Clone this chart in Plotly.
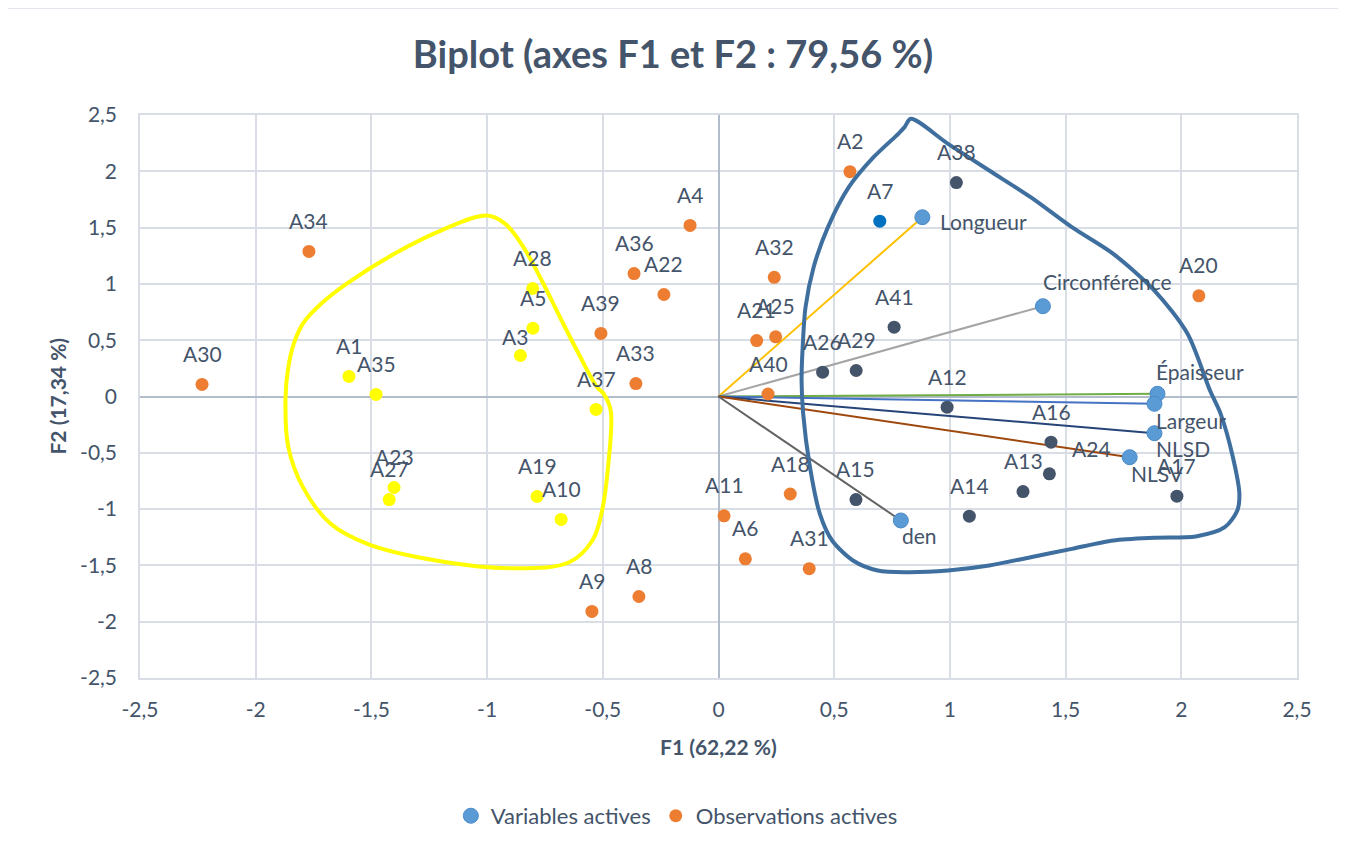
import plotly.graph_objects as go

# ---------------- data ----------------
obs_names = ["A1", "A2", "A3", "A4", "A5", "A6", "A7", "A8", "A9", "A10",
             "A11", "A12", "A13", "A14", "A15", "A16", "A17", "A18", "A19", "A20",
             "A21", "A22", "A23", "A24", "A25", "A26", "A27", "A28", "A29", "A30",
             "A31", "A32", "A33", "A34", "A35", "A36", "A37", "A38", "A39", "A40", "A41"]
obs_f1 = [-1.597, 0.568, -0.856, -0.123, -0.802, 0.116, 0.697, -0.344, -0.547, -0.680,
          0.024, 0.988, 1.316, 1.084, 0.594, 1.437, 1.981, 0.310, -0.784, 2.076,
          0.165, -0.236, -1.402, 1.430, 0.247, 0.450, -1.423, -0.803, 0.595, -2.232,
          0.392, 0.241, -0.357, -1.770, -1.480, -0.365, -0.529, 1.028, -0.508, 0.214, 0.759]
obs_f2 = [0.178, 1.997, 0.364, 1.519, 0.606, -1.442, 1.557, -1.776, -1.909, -1.092,
          -1.060, -0.095, -0.844, -1.063, -0.915, -0.406, -0.885, -0.866, -0.888, 0.894,
          0.497, 0.906, -0.808, -0.687, 0.530, 0.216, -0.915, 0.959, 0.231, 0.107,
          -1.529, 1.058, 0.115, 1.288, 0.018, 1.092, -0.115, 1.900, 0.560, 0.022, 0.616]
# highlighted group of each observation (as drawn in the chart)
obs_group = ["jaune", "aucun", "jaune", "aucun", "jaune", "aucun", "bleu", "aucun", "aucun", "jaune",
             "aucun", "fonce", "fonce", "fonce", "fonce", "fonce", "fonce", "aucun", "jaune", "aucun",
             "aucun", "aucun", "jaune", "fonce", "aucun", "fonce", "jaune", "jaune", "fonce", "aucun",
             "aucun", "aucun", "aucun", "aucun", "jaune", "aucun", "jaune", "fonce", "aucun", "aucun", "fonce"]

var_names = ["Longueur", "Circonférence", "Épaisseur", "Largeur", "NLSD", "NLSV", "den"]
var_f1 = [0.881, 1.402, 1.897, 1.884, 1.884, 1.777, 0.788]
var_f2 = [1.592, 0.802, 0.024, -0.065, -0.326, -0.539, -1.101]

tick_vals = [-2.5, -2, -1.5, -1, -0.5, 0, 0.5, 1, 1.5, 2, 2.5]
tick_text = ["-2,5", "-2", "-1,5", "-1", "-0,5", "0", "0,5", "1", "1,5", "2", "2,5"]

# hand-drawn outlines (data units)
yellow_x = [-1.002, -1.200, -1.399, -1.597, -1.716, -1.796, -1.835, -1.859, -1.871, -1.859,
            -1.796, -1.676, -1.518, -1.221, -0.884, -0.645, -0.545, -0.506, -0.476, -0.466,
            -0.496, -0.525, -0.605, -0.685, -0.764, -0.843, -0.923, -1.002]
yellow_y = [1.607, 1.474, 1.270, 1.015, 0.826, 0.648, 0.471, 0.260, -0.006, -0.450,
            -0.805, -1.131, -1.308, -1.456, -1.525, -1.472, -1.279, -1.042, -0.598, -0.124,
            0.024, 0.083, 0.382, 0.704, 1.030, 1.326, 1.536, 1.607]
blue_x = [0.831, 0.992, 1.170, 1.349, 1.527, 1.706, 1.884, 2.027, 2.124, 2.170,
          2.223, 2.251, 2.242, 2.188, 2.063, 1.884, 1.706, 1.527, 1.349, 1.170,
          0.992, 0.813, 0.688, 0.581, 0.491, 0.438, 0.393, 0.366, 0.359, 0.363,
          0.376, 0.411, 0.473, 0.563, 0.670, 0.777, 0.804, 0.831]
blue_y = [2.466, 2.244, 2.007, 1.770, 1.504, 1.267, 0.941, 0.557, 0.053, -0.154,
          -0.539, -0.864, -1.012, -1.161, -1.243, -1.255, -1.279, -1.353, -1.427, -1.501,
          -1.545, -1.560, -1.545, -1.456, -1.279, -1.042, -0.598, -0.154, 0.142, 0.409,
          0.793, 1.148, 1.504, 1.859, 2.125, 2.333, 2.392, 2.466]

# ---------------- style ----------------
TEXT = "#44546A"
FONT = "Lato"
FS = 21
group_color = {"aucun": "#ED7D31", "jaune": "#FFFF00", "fonce": "#44546A", "bleu": "#0070C0"}
var_line_color = {"Longueur": "#FFC000", "Circonférence": "#A5A5A5", "Épaisseur": "#70AD47",
                  "Largeur": "#4472C4", "NLSD": "#264478", "NLSV": "#9E480E", "den": "#636363"}
# label offsets in pixels (xshift, yshift, xanchor)
var_label = {"Longueur": (16, -4, "left"), "Circonférence": (-2, 25, "left"),
             "Épaisseur": (-3, 22, "left"), "Largeur": (0, -17, "left"),
             "NLSD": (0, -15, "left"), "NLSV": (-1, -16, "left"), "den": (-1, -15, "left")}
obs_label_shift = {"A3": (-5, 19), "A24": (42, 25)}

fig = go.Figure()

# variable vectors
for n, x, y in zip(var_names, var_f1, var_f2):
    fig.add_trace(go.Scatter(x=[0, x], y=[0, y], mode="lines",
                             line=dict(color=var_line_color[n], width=2),
                             showlegend=False, hoverinfo="skip"))

fig.add_trace(go.Scatter(x=var_f1, y=var_f2, mode="markers", name="Variables actives",
                         marker=dict(color="#5B9BD5", size=15,
                                     line=dict(color="#4A8AC8", width=1)),
                         text=var_names))

for g in ["aucun", "jaune", "fonce", "bleu"]:
    idx = [i for i, v in enumerate(obs_group) if v == g]
    fig.add_trace(go.Scatter(x=[obs_f1[i] for i in idx], y=[obs_f2[i] for i in idx],
                             mode="markers",
                             name="Observations actives",
                             showlegend=(g == "aucun"),
                             marker=dict(color=group_color[g], size=13),
                             text=[obs_names[i] for i in idx]))

# hand-drawn outlines
fig.add_trace(go.Scatter(x=yellow_x, y=yellow_y, mode="lines",
                         line=dict(color="#FFFF00", width=4, shape="spline", smoothing=1),
                         showlegend=False, hoverinfo="skip"))
fig.add_trace(go.Scatter(x=blue_x, y=blue_y, mode="lines",
                         line=dict(color="#3E6F9E", width=4, shape="spline", smoothing=0.8),
                         showlegend=False, hoverinfo="skip"))

annotations = []
for n, x, y in zip(obs_names, obs_f1, obs_f2):
    dx, dy = obs_label_shift.get(n, (0, 31))
    annotations.append(dict(x=x, y=y, text=n, showarrow=False, xshift=dx, yshift=dy,
                            font=dict(family=FONT, size=FS, color=TEXT)))
for n, x, y in zip(var_names, var_f1, var_f2):
    dx, dy, xa = var_label[n]
    annotations.append(dict(x=x, y=y, text=n, showarrow=False, xshift=dx, yshift=dy,
                            xanchor=xa, font=dict(family=FONT, size=FS, color=TEXT)))
annotations.append(dict(xref="paper", yref="paper", x=0.5, y=-0.121, xanchor="center", yanchor="middle",
                        text="<b>F1 (62,22 %)</b>",
                        showarrow=False, font=dict(family=FONT, size=FS, color=TEXT)))
annotations.append(dict(xref="paper", yref="paper", x=-0.0717, y=0.5, xanchor="center", yanchor="middle",
                        text="<b>F2 (17,34 %)</b>",
                        textangle=-90, showarrow=False, font=dict(family=FONT, size=FS, color=TEXT)))

axis_common = dict(range=[-2.5, 2.5], tickvals=tick_vals, ticktext=tick_text,
                   showgrid=True, gridcolor="#D9DEE6", gridwidth=1.5,
                   zeroline=True, zerolinecolor="#B3BCCB", zerolinewidth=1.5,
                   showline=True, linecolor="#D9DEE6", linewidth=1.5, mirror=True,
                   tickfont=dict(family=FONT, size=FS, color=TEXT), ticks="")

# the page body adds an 8 px offset; margins compensate for it
fig.update_layout(
    width=1346, height=850,
    margin=dict(l=132, r=57, t=107, b=180),
    paper_bgcolor="white", plot_bgcolor="white",
    title=dict(text="<b>Biplot (axes F1 et F2 : 79,56 %)</b>", x=(673 - 8) / 1346, xanchor="center",
               y=1 - 47 / 850, yanchor="middle",
               font=dict(family=FONT, size=38, color=TEXT)),
    xaxis=dict(**axis_common, ticklabelstandoff=12),
    yaxis=dict(**axis_common, ticklabelstandoff=17),
    legend=dict(orientation="h", x=0.464, xanchor="center", y=-0.245, yanchor="middle",
                font=dict(family=FONT, size=22, color=TEXT), itemwidth=30),
    annotations=annotations,
    shapes=[dict(type="rect", xref="paper", yref="paper", x0=-0.115, x1=1.038, y0=-0.33, y1=1.190,
                 line=dict(color="#D9DEE6", width=1.5), layer="below")],
    showlegend=True,
)

fig.write_html("out.html")
